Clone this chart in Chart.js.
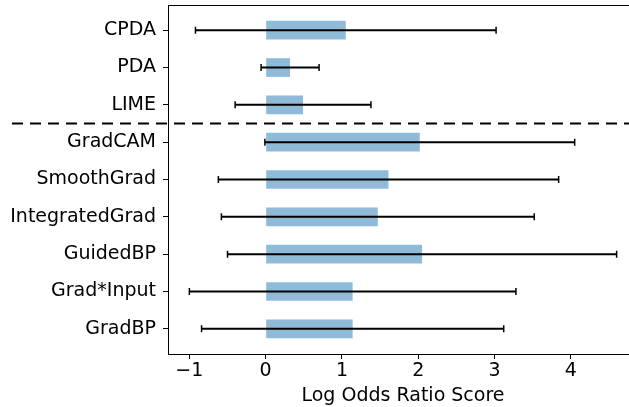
<!DOCTYPE html>
<html>
<head>
<meta charset="utf-8">
<script src="https://cdn.jsdelivr.net/npm/chart.js@4"></script>
<style>
  html, body { margin: 0; padding: 0; background: #fff; }
  #wrap { width: 629px; height: 407px; overflow: hidden; }
  #box { width: 640px; height: 407px; }
</style>
</head>
<body>
<div id="wrap"><div id="box"><canvas id="chart"></canvas></div></div>
<script>
const methods = ["CPDA", "PDA", "LIME", "GradCAM", "SmoothGrad", "IntegratedGrad", "GuidedBP", "Grad*Input", "GradBP"];
const scores = [1.05, 0.32, 0.49, 2.02, 1.61, 1.47, 2.05, 1.14, 1.14];
const errors = [1.97, 0.38, 0.89, 2.03, 2.23, 2.05, 2.55, 2.14, 1.98];
const xTicks = [-1, 0, 1, 2, 3, 4];
const splitAfter = 2; // dashed line between LIME and GradCAM

const font = { family: "'DejaVu Sans'", size: 19 };

// error bars with caps
const errorBars = {
  id: 'errorBars',
  afterDatasetsDraw(chart) {
    const ctx = chart.ctx, xs = chart.scales.x, ys = chart.scales.y;
    ctx.save();
    ctx.strokeStyle = '#000';
    scores.forEach((v, i) => {
      const y = ys.getPixelForValue(i);
      const x1 = xs.getPixelForValue(v - errors[i]);
      const x2 = xs.getPixelForValue(v + errors[i]);
      ctx.lineWidth = 2;
      ctx.beginPath();
      ctx.moveTo(x1, y); ctx.lineTo(x2, y);
      ctx.stroke();
      ctx.lineWidth = 1.5;
      ctx.beginPath();
      ctx.moveTo(x1, y - 3.5); ctx.lineTo(x1, y + 3.5);
      ctx.moveTo(x2, y - 3.5); ctx.lineTo(x2, y + 3.5);
      ctx.stroke();
    });
    ctx.restore();
  }
};

// axes frame + dashed separator
const frame = {
  id: 'frame',
  afterDraw(chart) {
    const ctx = chart.ctx, a = chart.chartArea, ys = chart.scales.y;
    ctx.save();
    ctx.strokeStyle = '#000';
    ctx.lineWidth = 1;
    ctx.strokeRect(Math.round(a.left) + 0.5, Math.round(a.top) + 0.5,
                   Math.round(a.right - a.left), Math.round(a.bottom - a.top));
    const y = ys.getPixelForValue(splitAfter + 0.5);
    ctx.lineWidth = 2;
    ctx.setLineDash([11, 7]);
    ctx.beginPath();
    ctx.moveTo(12, y); ctx.lineTo(a.right, y);
    ctx.stroke();
    ctx.restore();
  }
};

new Chart(document.getElementById('chart'), {
  type: 'bar',
  data: {
    datasets: [{
      data: scores.map((v, i) => ({ x: v, y: i })),
      backgroundColor: 'rgba(31, 119, 180, 0.5)',
      borderWidth: 0,
      barPercentage: 0.5,
      categoryPercentage: 1.0
    }]
  },
  options: {
    indexAxis: 'y',
    responsive: true,
    maintainAspectRatio: false,
    animation: false,
    layout: { padding: { top: 5, right: 2, left: 0, bottom: 0 } },
    plugins: { legend: { display: false }, tooltip: { enabled: false } },
    scales: {
      x: {
        type: 'linear',
        min: -1.28,
        max: 4.88,
        afterBuildTicks: s => { s.ticks = xTicks.map(v => ({ value: v })); },
        afterFit: s => { s.height = 53; s.paddingLeft = 0; s.paddingRight = 0; },
        grid: { drawOnChartArea: false, tickLength: 5, color: '#000' },
        border: { display: false },
        ticks: {
          color: '#000', font: font, padding: 1,
          callback: v => String(v).replace('-', '\u2212')
        },
        title: { display: true, text: 'Log Odds Ratio Score', color: '#000', font: font, padding: { top: 0, bottom: 0 } }
      },
      y: {
        type: 'linear',
        min: -0.675,
        max: 8.675,
        reverse: true,
        offset: false,
        afterBuildTicks: s => { s.ticks = methods.map((m, i) => ({ value: i })); },
        afterFit: s => { s.width = 168; s.paddingTop = 0; s.paddingBottom = 0; },
        grid: { offset: false, drawOnChartArea: false, tickLength: 5, color: '#000' },
        border: { display: false },
        ticks: {
          color: '#000', font: font, padding: 7,
          callback: v => methods[v]
        }
      }
    }
  },
  plugins: [errorBars, frame]
});
</script>
</body>
</html>
